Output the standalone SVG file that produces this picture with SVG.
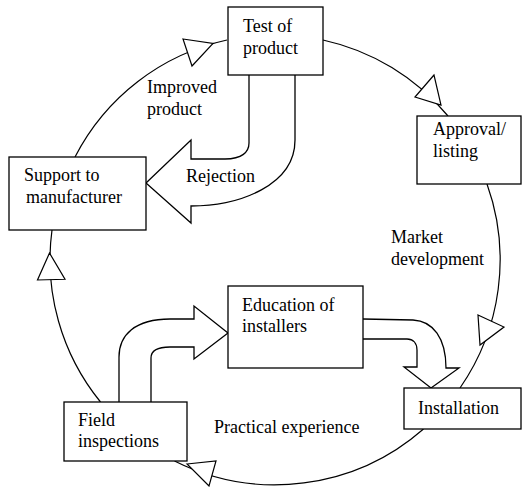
<svg xmlns="http://www.w3.org/2000/svg" width="523" height="487" viewBox="0 0 523 487">
<style>
.box{fill:#fff;stroke:#000;stroke-width:1.3}
.arc{fill:none;stroke:#000;stroke-width:1.2}
.head{fill:#fff;stroke:#000;stroke-width:1.2;stroke-linejoin:miter}
.big{fill:#fff;stroke:#000;stroke-width:1.3;stroke-linejoin:miter}
text{font-family:"Liberation Serif","Times New Roman",Times,Tinos,"Noto Serif","DejaVu Serif",FreeSerif,serif;font-size:18px;fill:#000}
</style>
<rect width="523" height="487" fill="#fff"/>
<g id="connectors">
<path class="arc" d="M75,157 A225,225 0 0 1 227,40"/>
<path class="arc" d="M323,40 A225,225 0 0 1 448,116"/>
<path class="arc" d="M487,184 A225,225 0 0 1 460,388"/>
<path class="arc" d="M423.5,429 A225,225 0 0 1 174.5,461"/>
<path class="arc" d="M100.5,402 A225,225 0 0 1 52,230"/>
<polygon class="head" points="183,39 213,43.5 192,66"/>
<polygon class="head" points="434,75 415,97 441,105"/>
<polygon class="head" points="478,315 504,327 480,345"/>
<polygon class="head" points="187,464 216,461 209,486"/>
<polygon class="head" points="49.5,253 37.5,280 65,279.3"/>
<path id="rejection-arrow" class="big" d="M249,75 L249,143 C249,152 242,159 225,159 L191,159 L191,140 L146,183 L191,223 L191,206 C240,206 295,185 295,140 L295,75"/>
<path id="field-to-education" class="big" d="M119,402 L119,357 C119,335 135,319 170,319 L194,319 L194,306 L228,333 L194,359 L194,347 L170,347 C158,347 151,350 151,358 L151,402"/>
<path id="education-to-installation" class="big" d="M363,319 L413,320 C433,321 446,338 446,368 L459,368 L431,388 L404,367 L417,367 L417,350 C417,343 413,339 407,339 L363,339"/>
</g>
<g id="test-of-product">
<rect class="box" x="228" y="7" width="95" height="68"/>
<text x="243" y="32">Test of</text>
<text x="243" y="54">product</text>
</g>
<g id="approval-listing">
<rect class="box" x="417" y="116" width="104" height="68"/>
<text x="433" y="135">Approval/</text>
<text x="433" y="157">listing</text>
</g>
<g id="support-to-manufacturer">
<rect class="box" x="9" y="157" width="137" height="73"/>
<text x="24" y="181">Support to</text>
<text x="26" y="203">manufacturer</text>
</g>
<g id="education-of-installers">
<rect class="box" x="228" y="286" width="135" height="82"/>
<text x="242" y="311">Education of</text>
<text x="242" y="332">installers</text>
</g>
<g id="installation">
<rect class="box" x="404" y="388" width="117" height="41"/>
<text x="418" y="414">Installation</text>
</g>
<g id="field-inspections">
<rect class="box" x="64" y="402" width="123" height="59"/>
<text x="78" y="426">Field</text>
<text x="78" y="447">inspections</text>
</g>
<g id="labels">
<text x="147" y="93">Improved</text>
<text x="147" y="115">product</text>
<text x="186" y="182">Rejection</text>
<text x="391" y="243">Market</text>
<text x="391" y="265">development</text>
<text x="214" y="433">Practical experience</text>
</g>
</svg>
